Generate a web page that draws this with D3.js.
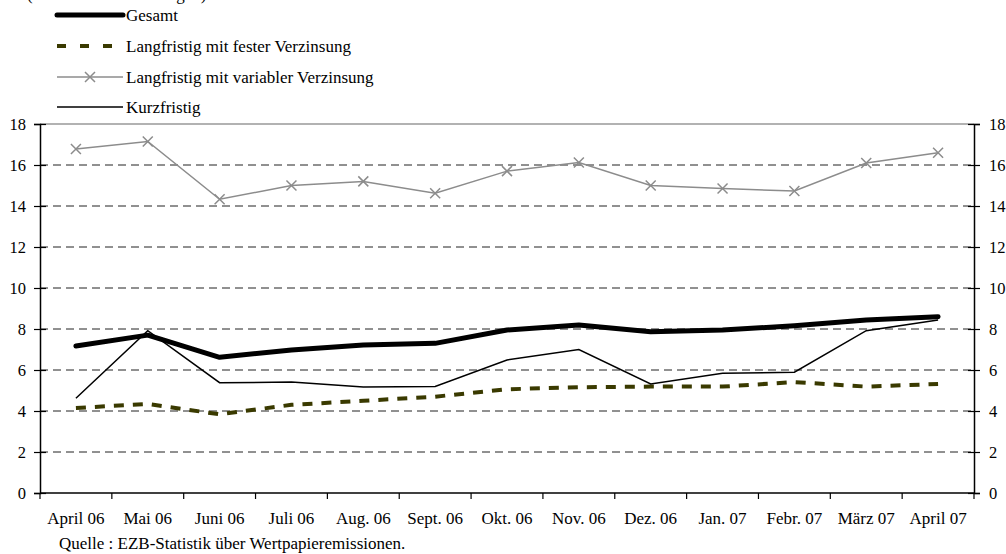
<!DOCTYPE html>
<meta charset="utf-8">
<script src="https://d3js.org/d3.v7.min.js"></script>
<style>
  body { margin: 0; background: #fff; }
  text { font-family: "Liberation Serif", "Times New Roman", serif; fill: #000; }
</style>
<div id="my_dataviz"></div>
<script>

// months
var months = ["April 06", "Mai 06", "Juni 06", "Juli 06", "Aug. 06", "Sept. 06", "Okt. 06",
              "Nov. 06", "Dez. 06", "Jan. 07", "Febr. 07", "März 07", "April 07"];

// series values
var gesamt    = [7.17, 7.70, 6.62, 6.98, 7.22, 7.30, 7.95, 8.20, 7.87, 7.95, 8.16, 8.44, 8.60];
var fest      = [4.15, 4.34, 3.84, 4.30, 4.50, 4.70, 5.06, 5.16, 5.19, 5.19, 5.41, 5.19, 5.32];
var variabel  = [16.78, 17.15, 14.33, 15.00, 15.20, 14.62, 15.70, 16.12, 15.00, 14.85, 14.73, 16.10, 16.60];
var kurz      = [4.62, 7.92, 5.38, 5.41, 5.17, 5.20, 6.49, 7.00, 5.32, 5.84, 5.89, 7.92, 8.44];

var yTicks = [0, 2, 4, 6, 8, 10, 12, 14, 16, 18];

var legendNames = ["Gesamt", "Langfristig mit fester Verzinsung",
                   "Langfristig mit variabler Verzinsung", "Kurzfristig"];

var W = 1006, H = 554;
var margin = {top: 124, right: 32, bottom: 61, left: 40},
    width = W - margin.left - margin.right,
    height = H - margin.top - margin.bottom;

var root = d3.select("#my_dataviz")
  .append("svg")
    .attr("width", W)
    .attr("height", H);

var svg = root.append("g")
    .attr("transform", "translate(" + margin.left + "," + margin.top + ")");

var x = d3.scaleBand()
  .domain(months)
  .range([0, width]);

var y = d3.scaleLinear()
  .domain([0, 18])
  .range([height, 0]);

// grid lines
svg.append("g")
  .selectAll("line")
  .data(yTicks.filter(function(d) { return d > 0 && d < 18; }))
  .enter()
  .append("line")
    .attr("x1", 0)
    .attr("x2", width)
    .attr("y1", function(d) { return y(d); })
    .attr("y2", function(d) { return y(d); })
    .attr("stroke", "#222")
    .attr("stroke-width", 1)
    .attr("stroke-dasharray", "8,5");

// top border
svg.append("line")
  .attr("x1", 0).attr("x2", width)
  .attr("y1", y(18)).attr("y2", y(18))
  .attr("stroke", "#999")
  .attr("stroke-width", 1.5);

// left + right axes
var yl = svg.append("g")
  .call(d3.axisLeft(y).tickValues(yTicks).tickSize(6).tickPadding(8));
var yr = svg.append("g")
  .attr("transform", "translate(" + width + ",0)")
  .call(d3.axisRight(y).tickValues(yTicks).tickSize(6).tickPadding(9));
[yl, yr].forEach(function(a) {
  a.select(".domain").attr("stroke", "#000").attr("stroke-width", 1.5);
  a.selectAll(".tick line").attr("stroke", "#000").attr("stroke-width", 1.2)
    .attr("x1", -6).attr("x2", 6);
  a.selectAll(".tick text")
    .style("font-family", "Liberation Serif")
    .style("font-size", "16.5px")
    .attr("fill", "#000");
});

// bottom axis: ticks at band boundaries
var xa = svg.append("g")
  .attr("transform", "translate(0," + height + ")");
xa.append("line")
  .attr("x1", 0).attr("x2", width)
  .attr("stroke", "#000").attr("stroke-width", 1.5);
xa.selectAll(".bt")
  .data(months.concat(["end"]))
  .enter()
  .append("line")
    .attr("x1", function(d, i) { return i * x.step(); })
    .attr("x2", function(d, i) { return i * x.step(); })
    .attr("y1", 0).attr("y2", 6)
    .attr("stroke", "#000").attr("stroke-width", 1.2);
xa.selectAll(".lbl")
  .data(months)
  .enter()
  .append("text")
    .attr("x", function(d) { return x(d) + x.bandwidth() / 2; })
    .attr("y", 31)
    .attr("text-anchor", "middle")
    .style("font-size", "17px")
    .text(function(d) { return d; });

var cx = function(d, i) { return x(months[i]) + x.bandwidth() / 2; };
var line = d3.line().x(cx).y(function(d) { return y(d); });

svg.append("path").datum(fest)
  .attr("d", line)
  .attr("fill", "none")
  .attr("stroke", "#3a3a00")
  .attr("stroke-width", 4)
  .attr("stroke-dasharray", "10,9");

svg.append("path").datum(variabel)
  .attr("d", line)
  .attr("fill", "none")
  .attr("stroke", "#8c8c8c")
  .attr("stroke-width", 1.5);

svg.selectAll(".mk")
  .data(variabel)
  .enter()
  .append("path")
    .attr("transform", function(d, i) { return "translate(" + cx(d, i) + "," + y(d) + ")"; })
    .attr("d", "M-5,-5L5,5M-5,5L5,-5")
    .attr("stroke", "#8c8c8c")
    .attr("stroke-width", 1.5);

svg.append("path").datum(kurz)
  .attr("d", line)
  .attr("fill", "none")
  .attr("stroke", "#000")
  .attr("stroke-width", 1.5);

svg.append("path").datum(gesamt)
  .attr("d", line)
  .attr("fill", "none")
  .attr("stroke", "#000")
  .attr("stroke-width", 5)
  .attr("stroke-linecap", "round")
  .attr("stroke-linejoin", "round");

// legend
var lg = root.append("g");
var rows = [15, 46, 77, 107];
var lx1 = 57, lx2 = 123;

lg.append("line").attr("x1", lx1).attr("x2", lx2).attr("y1", rows[0]).attr("y2", rows[0])
  .attr("stroke", "#000").attr("stroke-width", 5).attr("stroke-linecap", "round");
lg.append("line").attr("x1", lx1).attr("x2", lx2).attr("y1", rows[1]).attr("y2", rows[1])
  .attr("stroke", "#3a3a00").attr("stroke-width", 4).attr("stroke-dasharray", "9,14");
lg.append("line").attr("x1", lx1).attr("x2", lx2).attr("y1", rows[2]).attr("y2", rows[2])
  .attr("stroke", "#8c8c8c").attr("stroke-width", 1.5);
lg.append("path")
  .attr("transform", "translate(" + (lx1 + lx2) / 2 + "," + rows[2] + ")")
  .attr("d", "M-5,-5L5,5M-5,5L5,-5")
  .attr("stroke", "#8c8c8c").attr("stroke-width", 1.5);
lg.append("line").attr("x1", lx1).attr("x2", lx2).attr("y1", rows[3]).attr("y2", rows[3])
  .attr("stroke", "#000").attr("stroke-width", 1.5);

lg.selectAll(".lt")
  .data(legendNames)
  .enter()
  .append("text")
    .attr("x", 126)
    .attr("y", function(d, i) { return rows[i] + 6; })
    .style("font-size", "17px")
    .text(function(d) { return d; });

// header, cropped at the top edge as in the original
root.append("text")
  .attr("x", 27).attr("y", 0)
  .style("font-size", "17px")
  .text("(Jährliche Veränderungen)");

root.append("text")
  .attr("x", 59).attr("y", 549)
  .style("font-size", "17px")
  .text("Quelle : EZB-Statistik über Wertpapieremissionen.");

</script>
